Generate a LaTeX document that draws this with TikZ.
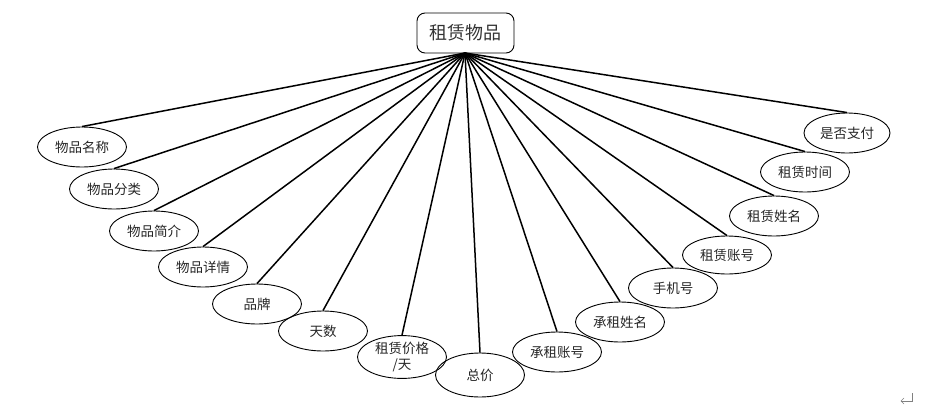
\documentclass[tikz,border=0pt]{standalone}
\usepackage{fontspec}
\setmainfont{Noto Sans CJK SC}
\usetikzlibrary{shapes.geometric}
\begin{document}
\begin{tikzpicture}[x=1pt,y=-1pt,
  attr/.style={draw,ellipse,line width=0.9pt,minimum width=89pt,minimum height=40pt,inner sep=0pt,font=\fontsize{13.5}{15}\selectfont,text=black!85},
  rootbox/.style={draw,rounded corners=8pt,line width=0.9pt,minimum width=97pt,minimum height=40pt,inner sep=0pt,font=\fontsize{18}{20}\selectfont,text=black!80},
  link/.style={line width=1.5pt}]
\useasboundingbox (0,0) rectangle (927,410);
\node[rootbox] (root) at (465.5,33) {租赁物品};
\coordinate (hub) at (465,53);
\node[attr] (a1) at (82,147) {物品名称};
\node[attr] (a2) at (114,189) {物品分类};
\node[attr] (a3) at (154,231) {物品简介};
\node[attr] (a4) at (203,267) {物品详情};
\node[attr] (a5) at (257,304) {品牌};
\node[attr] (a6) at (323,331) {天数};
\node[attr,minimum height=38pt,align=center,font=\fontsize{13.5}{16.5}\selectfont] (a7) at (402,357) {租赁价格\\/天};
\node[attr,minimum height=44pt] (a8) at (480,375) {总价};
\node[attr] (a9) at (557,352) {承租账号};
\node[attr] (a10) at (620,322) {承租姓名};
\node[attr] (a11) at (673,288) {手机号};
\node[attr,minimum height=38pt] (a12) at (727,255) {租赁账号};
\node[attr] (a13) at (774,216) {租赁姓名};
\node[attr] (a14) at (805,172) {租赁时间};
\node[attr,minimum width=86pt] (a15) at (847,133) {是否支付};
\foreach \i in {1,...,15} {\draw[link] (hub) -- (a\i.north);}
\draw[gray,line width=0.6pt] (912,393) -- (912,401) -- (901,401);
\draw[gray,line width=0.6pt] (904,398) -- (901,401) -- (904,404);
\end{tikzpicture}
\end{document}
